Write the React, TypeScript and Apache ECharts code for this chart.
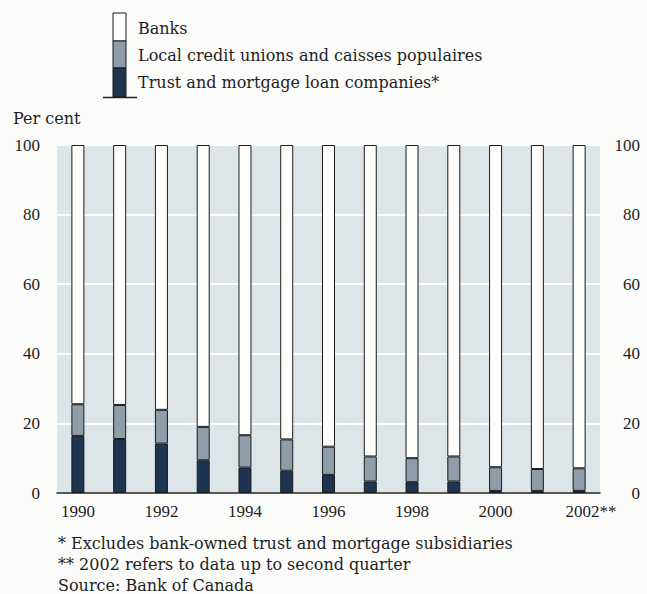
import React, { useEffect, useRef } from "react";
import * as echarts from "echarts";

const years = ["1990","1991","1992","1993","1994","1995","1996","1997","1998","1999","2000","2001","2002"];
const trustMortgage = [16.4, 15.5, 14.2, 9.4, 7.3, 6.4, 5.2, 3.3, 3.1, 3.3, 0.6, 0.6, 0.6];
const creditUnions = [9.1, 9.8, 9.7, 9.6, 9.3, 9.0, 8.1, 7.2, 6.9, 7.2, 6.8, 6.3, 6.5];
const banks = [74.5, 74.7, 76.1, 81.0, 83.4, 84.6, 86.7, 89.5, 90.0, 89.5, 92.6, 93.1, 92.9];
const seriesNames = ["Trust and mortgage loan companies*", "Local credit unions and caisses populaires", "Banks"];
const footnotes = [
  "* Excludes bank-owned trust and mortgage subsidiaries",
  "** 2002 refers to data up to second quarter",
  "Source: Bank of Canada",
];

const DARK = "#1d3550";
const MID = "#8e9da8";
const WHITE = "#fdfdfb";
const BORDER = "#1b1b1b";
const TEXT = "#1e1e1e";
const TEXT_FONT = "'DejaVu Serif', serif";
const NUM_FONT = "'Liberation Serif', serif";

export default function App() {
  const ref = useRef<HTMLDivElement>(null);
  useEffect(() => {
    const chart = echarts.init(ref.current!, null, { renderer: "svg" });
    const barStyle = (color: string) => ({ color, borderColor: BORDER, borderWidth: 1 });
    const legendX = 113;
    const option: any = {
      animation: false,
      backgroundColor: "#fbfbf9",
      grid: {
        left: 57, right: 47, top: 145, bottom: 101,
        show: true, backgroundColor: "#dde5e9", borderWidth: 0,
      },
      xAxis: {
        type: "category",
        data: years,
        axisLine: { show: true, lineStyle: { color: "#222", width: 1.5 } },
        axisTick: { show: false },
        axisLabel: {
          interval: 1,
          margin: 10,
          color: TEXT,
          fontFamily: NUM_FONT,
          fontSize: 17,
          formatter: (v: string) => (v === "2002" ? "{a|2002**}" : v),
          rich: { a: { fontFamily: NUM_FONT, fontSize: 17, color: TEXT, padding: [0, 0, 0, 24] } },
        },
      },
      yAxis: [
        {
          type: "value", min: 0, max: 100, interval: 20,
          axisLine: { show: false }, axisTick: { show: false },
          splitLine: { show: true, lineStyle: { color: "#ffffff", width: 2 } },
          axisLabel: { color: TEXT, fontFamily: NUM_FONT, fontSize: 17, margin: 17 },
        },
        {
          type: "value", min: 0, max: 100, interval: 20, position: "right",
          axisLine: { show: false }, axisTick: { show: false }, splitLine: { show: false },
          axisLabel: { color: TEXT, fontFamily: NUM_FONT, fontSize: 17, margin: 40, align: "right" },
        },
      ],
      series: [
        { name: seriesNames[0], type: "bar", stack: "t", barWidth: 13, data: trustMortgage, itemStyle: barStyle(DARK) },
        { name: seriesNames[1], type: "bar", stack: "t", barWidth: 13, data: creditUnions, itemStyle: barStyle(MID) },
        { name: seriesNames[2], type: "bar", stack: "t", barWidth: 13, data: banks, itemStyle: barStyle(WHITE) },
      ],
      graphic: [
        { type: "rect", shape: { x: legendX, y: 13, width: 13, height: 28 }, style: { fill: WHITE, stroke: BORDER, lineWidth: 1 } },
        { type: "rect", shape: { x: legendX, y: 41, width: 13, height: 27 }, style: { fill: MID, stroke: BORDER, lineWidth: 1 } },
        { type: "rect", shape: { x: legendX, y: 68, width: 13, height: 29 }, style: { fill: DARK, stroke: BORDER, lineWidth: 1 } },
        { type: "line", shape: { x1: 103, y1: 97.5, x2: 137, y2: 97.5 }, style: { stroke: "#222", lineWidth: 1.5 } },
        { type: "text", x: 138, y: 28, style: { text: seriesNames[2], fill: TEXT, font: `16px ${TEXT_FONT}`, textVerticalAlign: "middle" } },
        { type: "text", x: 138, y: 55, style: { text: seriesNames[1], fill: TEXT, font: `16px ${TEXT_FONT}`, textVerticalAlign: "middle" } },
        { type: "text", x: 138, y: 82, style: { text: seriesNames[0], fill: TEXT, font: `16px ${TEXT_FONT}`, textVerticalAlign: "middle" } },
        { type: "text", x: 13, y: 118, style: { text: "Per cent", fill: TEXT, font: `16px ${TEXT_FONT}`, textVerticalAlign: "middle" } },
        ...footnotes.map((t, i) => ({
          type: "text", x: 58, y: 543 + i * 21,
          style: { text: t, fill: TEXT, font: `16px ${TEXT_FONT}`, textVerticalAlign: "middle" },
        })),
      ],
    };
    chart.setOption(option);
    return () => chart.dispose();
  }, []);
  return <div ref={ref} style={{ width: 647, height: 594, position: "absolute", left: 0, top: 0 }} />;
}
